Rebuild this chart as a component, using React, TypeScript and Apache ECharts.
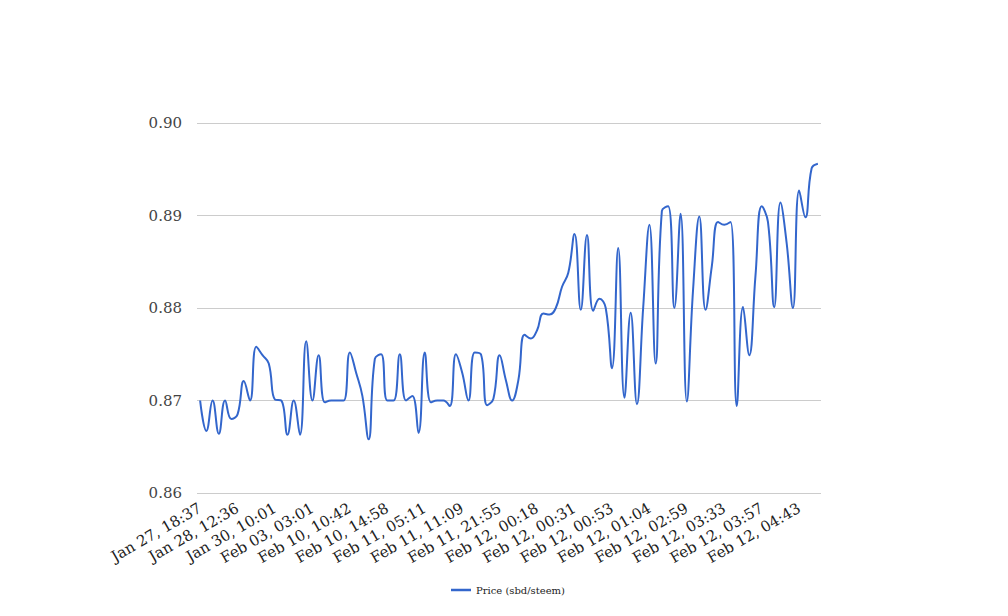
import React, { useEffect, useRef } from "react";
import * as echarts from "echarts";

const tickLabels = [
  "Jan 27, 18:37", "Jan 28, 12:36", "Jan 30, 10:01", "Feb 03, 03:01",
  "Feb 10, 10:42", "Feb 10, 14:58", "Feb 11, 05:11", "Feb 11, 11:09",
  "Feb 11, 21:55", "Feb 12, 00:18", "Feb 12, 00:31", "Feb 12, 00:53",
  "Feb 12, 01:04", "Feb 12, 02:59", "Feb 12, 03:33", "Feb 12, 03:57",
  "Feb 12, 04:43",
];

const prices = [
  0.8700, 0.8667, 0.8700, 0.8664, 0.8700, 0.8680, 0.8685, 0.8721, 0.8700, 0.8758,
  0.8749, 0.8740, 0.8701, 0.8700, 0.8663, 0.8700, 0.8663, 0.8764, 0.8700, 0.8749,
  0.8698, 0.8700, 0.8700, 0.8700, 0.8752, 0.8730, 0.8705, 0.8658, 0.8745, 0.8750,
  0.8700, 0.8700, 0.8750, 0.8700, 0.8705, 0.8665, 0.8752, 0.8698, 0.8700, 0.8700,
  0.8694, 0.8750, 0.8730, 0.8700, 0.8752, 0.8750, 0.8695, 0.8702, 0.8749, 0.8722,
  0.8700, 0.8722, 0.8771, 0.8767, 0.8776, 0.8794, 0.8793, 0.8800, 0.8823, 0.8838,
  0.8880, 0.8798, 0.8879, 0.8797, 0.8810, 0.8800, 0.8735, 0.8865, 0.8703, 0.8795,
  0.8696, 0.8800, 0.8890, 0.8740, 0.8905, 0.8910, 0.8800, 0.8902, 0.8699, 0.8820,
  0.8899, 0.8798, 0.8845, 0.8893, 0.8890, 0.8893, 0.8694, 0.8801, 0.8749, 0.8835,
  0.8910, 0.8893, 0.8801, 0.8914, 0.8870, 0.8800, 0.8927, 0.8898, 0.8951, 0.8956,
];

const LABEL_EVERY = 6;
const categories = prices.map((_, i) =>
  i % LABEL_EVERY === 0 ? tickLabels[i / LABEL_EVERY] : `${tickLabels[Math.floor(i / LABEL_EVERY)]} +${i % LABEL_EVERY}`
);

const seriesName = "Price (sbd/steem)";
const FONT = "DejaVu Serif";

export default function App() {
  const ref = useRef<HTMLDivElement>(null);
  useEffect(() => {
    document.body.style.margin = "0";
    const chart = echarts.init(ref.current!, undefined, { renderer: "svg" });
    chart.setOption({
      animation: false,
      backgroundColor: "#ffffff",
      grid: { left: 197, right: 187, top: 123, bottom: 123, containLabel: false },
      legend: {
        data: [{ name: seriesName, icon: "rect" }],
        left: 446,
        top: 580,
        itemWidth: 20,
        itemHeight: 2.5,
        itemGap: 4,
        textStyle: { fontFamily: FONT, fontSize: 10, color: "#222" },
      },
      xAxis: {
        type: "category",
        data: categories,
        boundaryGap: true,
        axisLine: { show: false },
        axisTick: { show: false },
        splitLine: { show: false },
        axisLabel: {
          interval: LABEL_EVERY - 1,
          rotate: 30,
          margin: 14,
          fontFamily: FONT,
          fontSize: 15,
          color: "#222",
        },
      },
      yAxis: {
        type: "value",
        min: 0.86,
        max: 0.9,
        interval: 0.01,
        axisLine: { show: false },
        axisTick: { show: false },
        splitLine: { lineStyle: { color: "#cccccc", width: 1 } },
        axisLabel: {
          margin: 15,
          fontFamily: FONT,
          fontSize: 15,
          color: "#444",
          formatter: (v: number) => v.toFixed(2),
        },
      },
      series: [
        {
          name: seriesName,
          type: "line",
          data: prices,
          smooth: 0.45,
          symbol: "none",
          lineStyle: { color: "#3366cc", width: 2 },
          itemStyle: { color: "#3366cc" },
        },
      ],
    });
    return () => chart.dispose();
  }, []);
  return <div ref={ref} style={{ width: 1008, height: 616 }} />;
}
